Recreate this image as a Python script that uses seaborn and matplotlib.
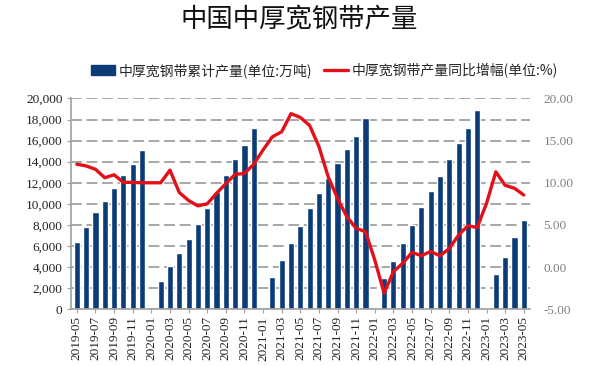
import numpy as np
import pandas as pd
import matplotlib
matplotlib.use("Agg")
import matplotlib.pyplot as plt
import seaborn as sns
from matplotlib.lines import Line2D
from matplotlib.patches import Patch
from matplotlib.ticker import FuncFormatter

# ---------------- data ----------------
months = list(pd.date_range("2019-05-01", periods=49, freq="MS").strftime("%Y-%m"))

cum_output = [6410, 7830, 9190, 10240, 11530, 12700, 13800, 15100,
              np.nan, 2680, 4100, 5300, 6690, 8110, 9600, 11150, 12700, 14250, 15540, 17180,
              np.nan, 3090, 4640, 6250, 7930, 9640, 11060, 12420, 13900, 15190, 16430, 18100,
              np.nan, 2940, 4580, 6250, 7990, 9730, 11210, 12640, 14220, 15730, 17210, 18890,
              np.nan, 3320, 4990, 6820, 8460]

yoy = [12.2, 12.0, 11.6, 10.6, 10.95, 10.05, 10.05, 10.0,
       10.0, 10.0, 11.5, 8.85, 7.9, 7.26, 7.5, 8.75, 9.9, 11.0, 11.1, 12.2,
       13.9, 15.45, 16.05, 18.2, 17.75, 16.8, 14.3, 10.7, 8.15, 5.97, 4.6, 4.2,
       0.84, -3.1, -0.54, 0.45, 1.75, 1.35, 1.85, 1.35, 2.2, 3.8, 4.9, 4.7,
       7.55, 11.3, 9.7, 9.35, 8.55]

bar_label = "中厚宽钢带累计产量(单位:万吨)"
line_label = "中厚宽钢带产量同比增幅(单位:%)"
title = "中国中厚宽钢带产量"

# ---------------- style ----------------
sns.set_style("white")
plt.rcParams['font.family'] = ['Noto Sans CJK SC', 'DejaVu Sans']

BAR_COLOR = "#0B3C78"
LINE_COLOR = "#E3101A"
GRID_COLOR = "#A0A0A0"

fig = plt.figure(figsize=(6.0, 3.66), dpi=100)
ax = fig.add_axes([0.118, 0.155, 0.765, 0.576])

df = pd.DataFrame({"month": months, "cum": cum_output, "yoy": yoy, "pos": np.arange(len(months))})

sns.barplot(data=df, x="month", y="cum", order=months, color=BAR_COLOR,
            saturation=1, width=0.66, ax=ax)

ax2 = ax.twinx()
sns.lineplot(data=df, x="pos", y="yoy", color=LINE_COLOR, linewidth=2.4, ax=ax2)

# axes limits
ax.set_xlim(-0.65, len(months) - 1 + 0.65)
ax.set_ylim(0, 20000)
ax2.set_ylim(-5, 20)

# ticks
ax.set_yticks(np.arange(0, 20001, 2000))
ax.yaxis.set_major_formatter(FuncFormatter(lambda v, p: f"{int(v):,}"))
ax2.set_yticks(np.arange(-5, 20.1, 5))
ax2.yaxis.set_major_formatter(FuncFormatter(lambda v, p: f"{v:.2f}"))

ax.set_xticks(np.arange(0, len(months), 2))
ax.set_xticklabels(months[::2], rotation=90)

for lab in ax.get_xticklabels() + ax.get_yticklabels():
    lab.set_family("Liberation Serif")
    lab.set_fontsize(9.5)
    lab.set_color("#222222")
for lab in ax2.get_yticklabels():
    lab.set_family("Liberation Serif")
    lab.set_fontsize(9.5)
    lab.set_color("#7F7F7F")

ax.tick_params(axis="x", length=3, color=GRID_COLOR, pad=2, bottom=True)
ax.tick_params(axis="y", length=3, color=GRID_COLOR, pad=3, left=True)
ax2.tick_params(axis="y", length=0, pad=10)

ax.set_xlabel("")
ax.set_ylabel("")
ax2.set_xlabel("")
ax2.set_ylabel("")

# grid
ax.set_axisbelow(True)
ax.yaxis.grid(True, color=GRID_COLOR, linewidth=1.3, linestyle=(0, (6, 2.6)))

# spines
for s in ["top", "right"]:
    ax.spines[s].set_visible(False)
for s in ["top", "right", "left", "bottom"]:
    ax2.spines[s].set_visible(False)
ax.spines["left"].set_color(GRID_COLOR)
ax.spines["bottom"].set_color(GRID_COLOR)
ax.spines["left"].set_linewidth(1.2)
ax.spines["bottom"].set_linewidth(1.2)

# legend
handles = [Patch(facecolor=BAR_COLOR, edgecolor=BAR_COLOR),
           Line2D([0], [0], color=LINE_COLOR, linewidth=2.4)]
fig.legend(handles, [bar_label, line_label], loc="center",
           bbox_to_anchor=(0.541, 0.807), ncol=2, frameon=False,
           fontsize=10, handlelength=1.7, handleheight=0.75,
           handletextpad=0.25, columnspacing=0.9)

# title
fig.text(0.498, 0.945, title, ha="center", va="center", fontsize=19, color="#111111")

fig.savefig("out.png", dpi=100)
